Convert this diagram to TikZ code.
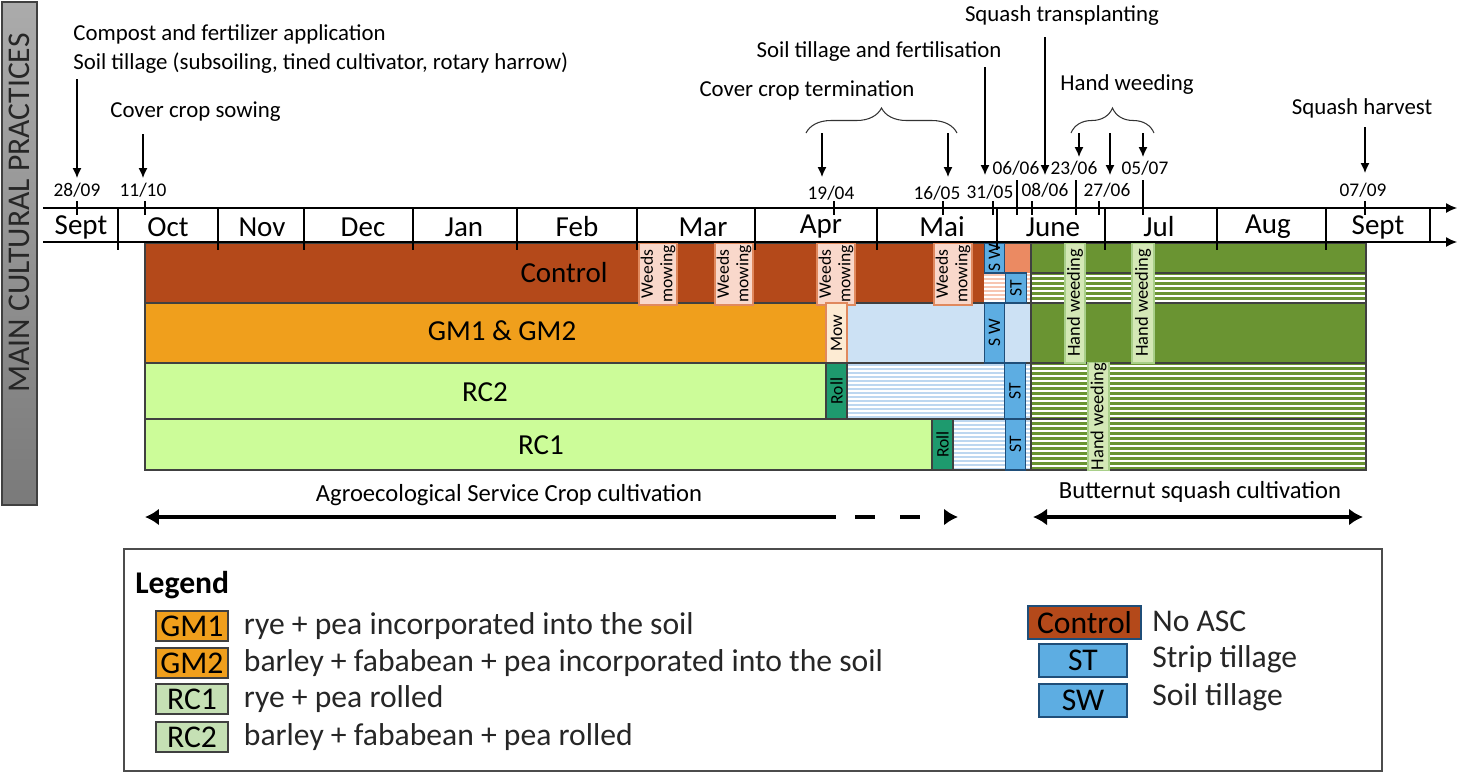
\documentclass[tikz,border=0pt]{standalone}
\usepackage{fontspec}
\setmainfont{Carlito}
\usepackage{xcolor}
\usetikzlibrary{arrows.meta,positioning,calc,decorations.pathreplacing}

\definecolor{ctrlBrown}{HTML}{B4491A}
\definecolor{gmOrange}{HTML}{F09F1C}
\definecolor{rcGreen}{HTML}{CCFC99}
\definecolor{squashGreen}{HTML}{6A9432}
\definecolor{paleBlue}{HTML}{CCE1F4}
\definecolor{stripeBlue}{HTML}{BDD7F0}
\definecolor{stripePink}{HTML}{F7C6B2}
\definecolor{tillBlue}{HTML}{5DADE2}
\definecolor{tillEdge}{HTML}{1F4E79}
\definecolor{rollGreen}{HTML}{1E9A6E}
\definecolor{weedPink}{HTML}{F9D8CB}
\definecolor{weedEdge}{HTML}{E0895E}
\definecolor{mowCream}{HTML}{FDEBD3}
\definecolor{salmon}{HTML}{EB8A62}
\definecolor{handGreen}{HTML}{D4E8B6}
\definecolor{handEdge}{HTML}{A9CF8A}
\definecolor{legGreen}{HTML}{C5E0B4}
\definecolor{bannerTop}{HTML}{ABABAB}
\definecolor{bannerBot}{HTML}{7A7A7A}
\definecolor{edgeGray}{HTML}{404040}

\begin{document}
\begin{tikzpicture}[
  x=0.02cm, y=-0.02cm,
  >=Latex,
  note/.style={font=\fontsize{13}{16}\selectfont, inner sep=0pt, align=left},
  dateLbl/.style={font=\fontsize{11}{13}\selectfont, inner sep=1.5pt},
  monthLbl/.style={font=\fontsize{16.5}{19}\selectfont, inner sep=0pt},
  barLbl/.style={font=\fontsize{16.5}{19}\selectfont, inner sep=0pt},
  bannerLbl/.style={rotate=90, font=\fontsize{18}{20}\selectfont, text=black!85},
  vbox/.style={rotate=90, draw, line width=0.6pt, inner sep=0pt, align=center, font=\fontsize{10}{11}\selectfont},
  weedBox/.style={vbox, fill=weedPink, draw=weedEdge, minimum width=1.24cm, minimum height=0.76cm},
  mowBox/.style={vbox, fill=mowCream, draw=weedEdge, minimum height=0.42cm},
  rollBox/.style={vbox, fill=rollGreen, draw=edgeGray, minimum height=0.42cm},
  tillBox/.style={vbox, fill=tillBlue, draw=tillEdge, minimum height=0.41cm},
  handBox/.style={vbox, fill=handGreen, draw=handEdge, font=\fontsize{10.5}{12}\selectfont},
  rowLine/.style={draw=edgeGray, line width=0.6pt},
  axisLine/.style={draw=black, line width=0.6pt},
  axisArrow/.style={axisLine, -{Latex[length=2.2mm,width=2mm]}},
  arrow/.style={-{Latex[length=2mm,width=1.8mm]}, line width=0.7pt},
  braceLine/.style={decorate, decoration={brace, amplitude=0.5cm}, line width=0.6pt, draw=black!80},
  whiteStripe/.style={draw=white, line width=1.2pt},
  blueStripe/.style={draw=stripeBlue, line width=1pt},
  pinkStripe/.style={draw=stripePink, line width=1pt},
  thickArrow/.style={line width=2.4pt, draw=black},
  legText/.style={font=\fontsize{18}{21}\selectfont, inner sep=0pt, text=black!85},
  legBox/.style={draw=edgeGray, line width=0.7pt, minimum width=1.44cm, minimum height=0.6cm, inner sep=0pt, font=\fontsize{18}{20}\selectfont},
]

\useasboundingbox (0,0) rectangle (1457,772);

% --- Side banner ---
\shadedraw[top color=bannerTop, bottom color=bannerBot, draw=edgeGray, line width=0.8pt] (2,2) rectangle (37,505);
\node[bannerLbl] (banner) at (19.5,213) {MAIN CULTURAL PRACTICES};

% --- Bars: Control ---
\fill[ctrlBrown] (145,243) rectangle (984,303);
\fill[salmon] (1005,243) rectangle (1031,273);
\fill[white] (984,273) rectangle (1031,303);
\foreach \yy in {275,279,...,301} \draw[pinkStripe] (984,\yy) -- (1031,\yy);
\fill[squashGreen] (1031,243) rectangle (1366,470);
\foreach \yy in {276,281,...,301} \draw[whiteStripe] (1031,\yy) -- (1366,\yy);

% --- Bars: GM1 & GM2 ---
\fill[gmOrange] (145,303) rectangle (826,363);
\fill[paleBlue] (847,303) rectangle (1031,363);

% --- Bars: RC2 and RC1 ---
\fill[rcGreen] (145,363) rectangle (826,419);
\fill[rcGreen] (145,419) rectangle (932,470);
\fill[white] (847,363) rectangle (1031,419);
\fill[white] (953,419) rectangle (1031,470);
\foreach \yy in {365,369,...,418} \draw[blueStripe] (847,\yy) -- (1031,\yy);
\foreach \yy in {421,425,...,469} \draw[blueStripe] (953,\yy) -- (1031,\yy);
\foreach \yy in {366,371,...,469} \draw[whiteStripe] (1031,\yy) -- (1366,\yy);

% row outlines
\draw[rowLine] (145,243) rectangle (1366,470);
\foreach \ry in {303,363,419} \draw[rowLine] (145,\ry) -- (1366,\ry);
\draw[rowLine] (1031,273) -- (1366,273);
\draw[rowLine] (1031,243) -- (1031,470);

\node[barLbl] (ctrlLbl) at (564,273) {Control};
\node[barLbl] (gmLbl) at (502,331) {GM1 \& GM2};
\node[barLbl] (rc2Lbl) at (485,392) {RC2};
\node[barLbl] (rc1Lbl) at (541,445) {RC1};

% --- Operations ---
\node[weedBox] (wm1) at (658,274) {Weeds\\mowing};
\node[weedBox] (wm2) at (734,274) {Weeds\\mowing};
\node[weedBox] (wm3) at (836,274) {Weeds\\mowing};
\node[weedBox] (wm4) at (953,274) {Weeds\\mowing};
\node[mowBox, minimum width=1.2cm] (mow) at (836.5,333) {Mow};
\node[rollBox, minimum width=1.12cm] (roll2) at (836.5,391) {Roll};
\node[rollBox, minimum width=1.02cm] (roll1) at (942.5,444.5) {Roll};
\node[tillBox, minimum width=0.6cm] (swCtrl) at (994.5,258) {S W};
\node[tillBox, minimum width=1.2cm] (swGM) at (994.5,333) {S W};
\node[tillBox, minimum width=0.6cm] (stCtrl) at (1016,288) {ST};
\node[tillBox, minimum width=1.12cm] (stRC2) at (1015,391) {ST};
\node[tillBox, minimum width=1.02cm] (stRC1) at (1015.5,444.5) {ST};
\node[handBox, minimum width=2.4cm, minimum height=0.4cm] (hw1) at (1075,303) {Hand weeding};
\node[handBox, minimum width=2.4cm, minimum height=0.44cm] (hw2) at (1143,303) {Hand weeding};
\node[handBox, minimum width=2.14cm, minimum height=0.42cm] (hw3) at (1098.5,416.5) {Hand weeding};

% --- Time axis ---
\coordinate (axTopL) at (43,208);
\coordinate (axTopR) at (1457,208);
\coordinate (axBotL) at (43,242);
\coordinate (axBotR) at (1457,242);
\draw[axisArrow] (axTopL) -- (axTopR);
\draw[axisArrow] (axBotL) -- (axBotR);
\foreach \sx in {118,218,304,413,517,637,755,877,997,1105,1217,1326} \draw[axisLine] (\sx,208) -- (\sx,250);
\draw[axisLine] (1430,208) -- (1430,242);
\foreach \tx in {77,145,834,943,993,1032,1099,1365} \draw[axisLine] (\tx,201) -- (\tx,215);
\foreach \tx in {1017,1076,1143} \draw[axisLine] (\tx,180) -- (\tx,215);

\foreach \mx/\mname [count=\i] in {81/Sept,168/Oct,262/Nov,363/Dec,464/Jan,577/Feb,703/Mar,821/Apr,942/Mai,1053/June,1159/Jul,1268/Aug,1378/Sept}
  \node[monthLbl] (month\i) at (\mx,227) {\mname};

% --- Dates ---
\node[dateLbl] (l2809) at (77,190) {28/09};
\node[dateLbl] (l1110) at (143,190) {11/10};
\node[dateLbl] (l1904) at (831,193) {19/04};
\node[dateLbl] (l1605) at (937,193) {16/05};
\node[dateLbl] (l3105) at (990,192) {31/05};
\node[dateLbl] (l0606) at (1016,168) {06/06};
\node[dateLbl] (l0806) at (1045,190) {08/06};
\node[dateLbl] (l2306) at (1074,168) {23/06};
\node[dateLbl] (l2706) at (1107,190) {27/06};
\node[dateLbl] (l0507) at (1145,168) {05/07};
\node[dateLbl] (l0709) at (1363,190) {07/09};

% --- Cultural practices ---
\node[note, anchor=west] (compost) at (73,49) {Compost and fertilizer application\\Soil tillage (subsoiling, tined cultivator, rotary harrow)};
\node[note, anchor=west] (sowing) at (110,112) {Cover crop sowing};
\node[note] (termin) at (807,90) {Cover crop termination};
\node[note] (tillFert) at (879,52) {Soil tillage and fertilisation};
\node[note] (transpl) at (1062,16) {Squash transplanting};
\node[note] (handWeed) at (1127,85) {Hand weeding};
\node[note] (harvest) at (1362,108) {Squash harvest};

\coordinate (brTermL) at (806,133);
\coordinate (brTermR) at (957,133);
\coordinate (brHandL) at (1071,133);
\coordinate (brHandR) at (1154,133);
\draw[braceLine] (brTermL) -- (brTermR);
\draw[braceLine] (brHandL) -- (brHandR);

\coordinate (a2809) at (77,178);
\coordinate (a1110) at (143,178);
\coordinate (a1904) at (822,177);
\coordinate (a1605) at (948,177);
\coordinate (a3105) at (985,175);
\coordinate (a0806) at (1045,175);
\coordinate (a2306) at (1079,157);
\coordinate (a2706) at (1110,175);
\coordinate (a0507) at (1143,157);
\coordinate (a0709) at (1365,173);

\draw[arrow] ($(compost.south -| a2809)+(0,6)$) -- (a2809);
\draw[arrow] ($(sowing.south -| a1110)+(0,12)$) -- (a1110);
\draw[arrow] (brTermL -| a1904) -- (a1904);
\draw[arrow] (brTermR -| a1605) -- (a1605);
\draw[arrow] ($(tillFert.south -| a3105)+(0,5)$) -- (a3105);
\draw[arrow] ($(transpl.south -| a0806)+(0,11)$) -- (a0806);
\draw[arrow] (brHandL -| a2306) -- (a2306);
\draw[arrow] (brHandL -| a2706) -- (a2706);
\draw[arrow] (brHandL -| a0507) -- (a0507);
\draw[arrow] ($(harvest.south -| a0709)+(0,9)$) -- (a0709);

% --- Cultivation periods ---
\node[note] (ascLbl) at (509,495) {\fontsize{14}{16}\selectfont Agroecological Service Crop cultivation};
\node[note] (bsqLbl) at (1200,492) {\fontsize{14}{16}\selectfont Butternut squash cultivation};
\coordinate (ascL) at (145,517);
\coordinate (ascM) at (836,517);
\coordinate (ascD) at (855,517);
\coordinate (ascR) at (958,517);
\coordinate (bsqL) at (1033,517);
\coordinate (bsqR) at (1363,517);
\draw[thickArrow, {Latex[length=2.8mm,width=3.4mm]}-] (ascL) -- (ascM);
\draw[thickArrow, dash pattern=on 0.4cm off 0.5cm, -{Latex[length=2.8mm,width=3.4mm]}] (ascD) -- (ascR);
\draw[thickArrow, {Latex[length=2.8mm,width=3.4mm]}-{Latex[length=2.8mm,width=3.4mm]}] (bsqL) -- (bsqR);

% --- Legend ---
\draw[draw=black!70, line width=1pt] (124,549) rectangle (1382,771);
\node[legText, anchor=west, font=\fontsize{18}{21}\selectfont\bfseries, text=black] (legTitle) at (135,585) {Legend};
\node[legBox, fill=gmOrange] (lgGM1) at (192,626) {GM1};
\node[legBox, fill=gmOrange] (lgGM2) at (192,663) {GM2};
\node[legBox, fill=legGreen] (lgRC1) at (192,699) {RC1};
\node[legBox, fill=legGreen] (lgRC2) at (192,737) {RC2};
\node[legText, right=3mm of lgGM1] (txGM1) {rye + pea incorporated into the soil};
\node[legText, right=3mm of lgGM2] (txGM2) {barley + fababean + pea incorporated into the soil};
\node[legText, right=3mm of lgRC1] (txRC1) {rye + pea rolled};
\node[legText, right=3mm of lgRC2] (txRC2) {barley + fababean + pea rolled};

\node[legBox, fill=ctrlBrown, draw=tillEdge, minimum width=2.26cm, minimum height=0.66cm] (lgCtrl) at (1084.5,622.5) {Control};
\node[legBox, fill=tillBlue, draw=tillEdge, minimum width=1.76cm, minimum height=0.66cm] (lgST) at (1083,660.5) {ST};
\node[legBox, fill=tillBlue, draw=tillEdge, minimum width=1.76cm, minimum height=0.66cm] (lgSW) at (1083,700.5) {SW};
\node[legText, anchor=west] (txCtrl) at (1152,621) {No ASC};
\node[legText, anchor=west] (txST) at (1152,659) {Strip tillage};
\node[legText, anchor=west] (txSW) at (1152,697) {Soil tillage};

\end{tikzpicture}
\end{document}
